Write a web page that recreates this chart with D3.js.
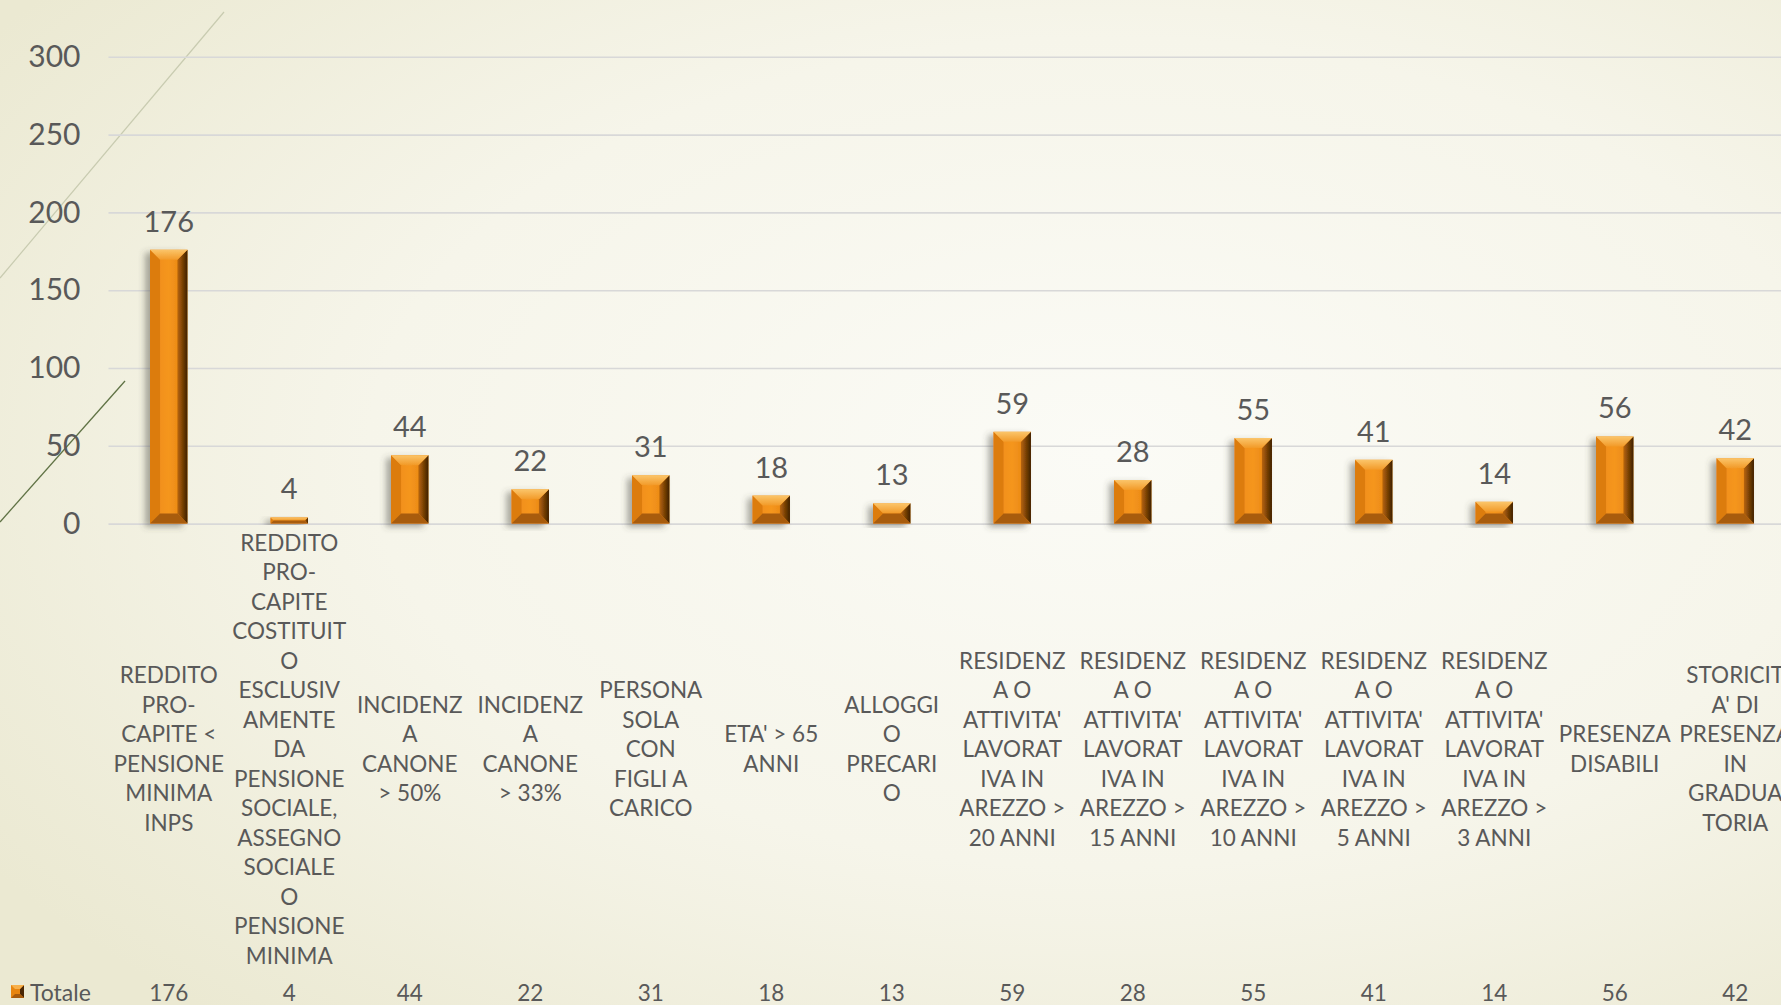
<!DOCTYPE html>
<html>
<head>
<meta charset="utf-8">
<script src="https://cdn.jsdelivr.net/npm/d3@7"></script>
<style>
  body { margin: 0; overflow: hidden; }
  text { font-family: Lato, "Liberation Sans", sans-serif; fill: #595959; }
</style>
</head>
<body>
<div id="chart"></div>
<script>
// data
let categories = [
  "REDDITO\nPRO-\nCAPITE <\nPENSIONE\nMINIMA\nINPS",
  "REDDITO\nPRO-\nCAPITE\nCOSTITUIT\nO\nESCLUSIV\nAMENTE\nDA\nPENSIONE\nSOCIALE,\nASSEGNO\nSOCIALE\nO\nPENSIONE\nMINIMA",
  "INCIDENZ\nA\nCANONE\n> 50%",
  "INCIDENZ\nA\nCANONE\n> 33%",
  "PERSONA\nSOLA\nCON\nFIGLI A\nCARICO",
  "ETA' > 65\nANNI",
  "ALLOGGI\nO\nPRECARI\nO",
  "RESIDENZ\nA O\nATTIVITA'\nLAVORAT\nIVA IN\nAREZZO >\n20 ANNI",
  "RESIDENZ\nA O\nATTIVITA'\nLAVORAT\nIVA IN\nAREZZO >\n15 ANNI",
  "RESIDENZ\nA O\nATTIVITA'\nLAVORAT\nIVA IN\nAREZZO >\n10 ANNI",
  "RESIDENZ\nA O\nATTIVITA'\nLAVORAT\nIVA IN\nAREZZO >\n5 ANNI",
  "RESIDENZ\nA O\nATTIVITA'\nLAVORAT\nIVA IN\nAREZZO >\n3 ANNI",
  "PRESENZA\nDISABILI",
  "STORICIT\nA' DI\nPRESENZA\nIN\nGRADUA\nTORIA"
];
let values = [176, 4, 44, 22, 31, 18, 13, 59, 28, 55, 41, 14, 56, 42];
let yTicks = [0, 50, 100, 150, 200, 250, 300];
let seriesName = "Totale";

let width = 1781, height = 1005;
let plot = { left: 108.5, top: 56.8, bottom: 523.6, step: 120.5 };

let svg = d3.select("#chart").append("svg")
  .attr("width", width)
  .attr("height", height);

let defs = svg.append("defs");

// background
let bg = defs.append("radialGradient").attr("id", "bg")
  .attr("cx", "0.62").attr("cy", "0.45").attr("r", "0.75");
bg.append("stop").attr("offset", "0").attr("stop-color", "#fbfbf6");
bg.append("stop").attr("offset", "0.55").attr("stop-color", "#f6f5ea");
bg.append("stop").attr("offset", "1").attr("stop-color", "#ebe9d2");

let face = defs.append("linearGradient").attr("id", "face");
face.append("stop").attr("offset", "0").attr("stop-color", "#ef8a17");
face.append("stop").attr("offset", "0.5").attr("stop-color", "#f5961e");
face.append("stop").attr("offset", "1").attr("stop-color", "#e3800f");

let rightG = defs.append("linearGradient").attr("id", "rightBevel");
rightG.append("stop").attr("offset", "0").attr("stop-color", "#b8650a");
rightG.append("stop").attr("offset", "1").attr("stop-color", "#3d1f02");

let topG = defs.append("linearGradient").attr("id", "topBevel")
  .attr("x1", 0).attr("y1", 0).attr("x2", 0).attr("y2", 1);
topG.append("stop").attr("offset", "0").attr("stop-color", "#fbc56a");
topG.append("stop").attr("offset", "1").attr("stop-color", "#f29a28");

let shadow = defs.append("filter").attr("id", "shadow")
  .attr("x", "-50%").attr("y", "-20%").attr("width", "200%").attr("height", "140%");
shadow.append("feDropShadow")
  .attr("dx", -5).attr("dy", 3).attr("stdDeviation", 3)
  .attr("flood-color", "#4a4a40").attr("flood-opacity", 0.45);

svg.append("rect").attr("width", width).attr("height", height).attr("fill", "url(#bg)");

// decorative theme lines
svg.append("line").attr("x1", 0).attr("y1", 278).attr("x2", 224).attr("y2", 12)
  .attr("stroke", "#c8cbb0").attr("stroke-width", 1.2);
svg.append("line").attr("x1", 0).attr("y1", 522).attr("x2", 125).attr("y2", 381)
  .attr("stroke", "#5f7244").attr("stroke-width", 1.3);

// scales
let x_scale = d3.scaleBand()
  .domain(categories)
  .range([plot.left, plot.left + plot.step * categories.length]);

let y_scale = d3.scaleLinear().domain([0, 300]).range([plot.bottom, plot.top]);

// y axis with gridlines
let yAxis = d3.axisLeft(y_scale).tickValues(yTicks)
  .tickSize(-(width - plot.left)).tickPadding(28);
let yg = svg.append("g").attr("transform", `translate(${plot.left},0)`).call(yAxis);
yg.select(".domain").remove();
yg.selectAll(".tick line").attr("stroke", "#d8d8d8").attr("stroke-width", 1.6);
yg.selectAll(".tick text").attr("font-size", "30px").attr("fill", "#595959")
  .attr("font-family", "Lato, 'Liberation Sans', sans-serif");

// bars
let barW = x_scale.bandwidth() * 0.31;
let bars = svg.append("g").selectAll(".bar")
  .data(categories.map((c, i) => ({ cat: c, value: values[i] })))
  .enter().append("g").attr("class", "bar")
  .attr("filter", "url(#shadow)");

bars.each(function (d) {
  let g = d3.select(this);
  let x = x_scale(d.cat) + (x_scale.bandwidth() - barW) / 2;
  let y = y_scale(d.value);
  let h = y_scale(0) - y;
  let w = barW;
  let b = Math.min(10, h / 2, w / 2);
  let pts = (arr) => arr.map((p) => p.join(",")).join(" ");
  g.append("rect").attr("x", x).attr("y", y).attr("width", w).attr("height", h).attr("fill", "url(#face)");
  g.append("polygon").attr("points", pts([[x, y], [x + b, y + b], [x + b, y + h - b], [x, y + h]]))
    .attr("fill", "#dc7b0e");
  g.append("polygon").attr("points", pts([[x + w, y], [x + w - b, y + b], [x + w - b, y + h - b], [x + w, y + h]]))
    .attr("fill", "url(#rightBevel)");
  g.append("polygon").attr("points", pts([[x, y], [x + w, y], [x + w - b, y + b], [x + b, y + b]]))
    .attr("fill", "url(#topBevel)");
  g.append("polygon").attr("points", pts([[x, y + h], [x + w, y + h], [x + w - b, y + h - b], [x + b, y + h - b]]))
    .attr("fill", "#a85b0c");
});

// data labels
svg.append("g").selectAll("text")
  .data(values)
  .enter().append("text")
  .attr("x", (d, i) => x_scale(categories[i]) + x_scale.bandwidth() / 2)
  .attr("y", (d) => y_scale(d) - 18)
  .attr("text-anchor", "middle")
  .attr("font-size", "29px")
  .attr("fill", "#404040")
  .text((d) => d);

// category labels, centred vertically
let lineH = 29.5, labelMid = 748;
let catLabels = svg.append("g").selectAll("text")
  .data(categories)
  .enter().append("text")
  .attr("text-anchor", "middle")
  .attr("font-size", "22.5px")
  .attr("dominant-baseline", "central");
catLabels.each(function (c) {
  let lines = c.split("\n");
  let cx = x_scale(c) + x_scale.bandwidth() / 2;
  let y0 = labelMid - (lines.length - 1) / 2 * lineH;
  d3.select(this).selectAll("tspan").data(lines).enter().append("tspan")
    .attr("x", cx)
    .attr("y", (l, k) => y0 + k * lineH)
    .text((l) => l);
});

// data table row
let tableY = 992;
let key = svg.append("g").attr("transform", "translate(11,985)");
key.append("rect").attr("width", 13).attr("height", 13).attr("fill", "#e8850f");
key.append("polygon").attr("points", "13,0 9,4 9,9 13,13").attr("fill", "#4a2603");
key.append("polygon").attr("points", "0,0 13,0 9,4 4,4").attr("fill", "#f7b04a");
key.append("polygon").attr("points", "0,13 13,13 9,9 4,9").attr("fill", "#a85b0c");
svg.append("text").attr("x", 30).attr("y", tableY)
  .attr("dominant-baseline", "central").attr("font-size", "23px").text(seriesName);
svg.append("g").selectAll("text")
  .data(values)
  .enter().append("text")
  .attr("x", (d, i) => x_scale(categories[i]) + x_scale.bandwidth() / 2)
  .attr("y", tableY)
  .attr("text-anchor", "middle")
  .attr("dominant-baseline", "central")
  .attr("font-size", "22.5px")
  .text((d) => d);
</script>
</body>
</html>
